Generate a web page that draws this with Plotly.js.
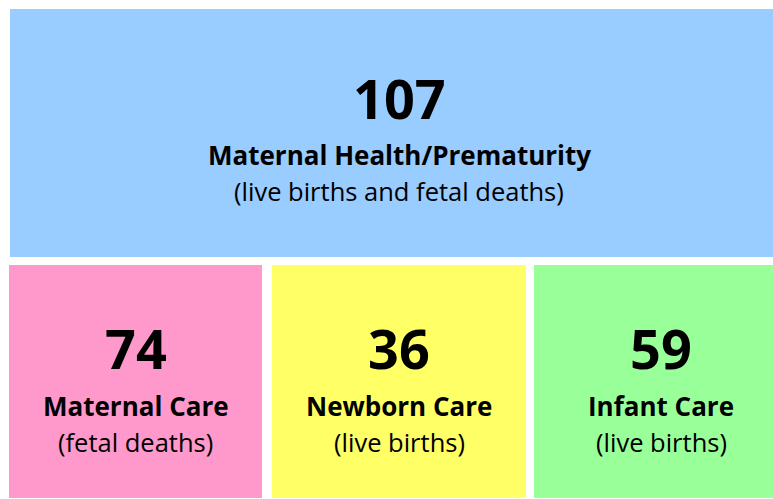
<!DOCTYPE html>
<html><head><meta charset="utf-8">
<script src="https://cdn.plot.ly/plotly-3.0.1.min.js"></script>
<style>html,body{margin:0;padding:0;background:#fff}#c{width:773px;height:499px}</style>
</head><body><div id="c"></div>
<script>
const categories = ["Maternal Health/Prematurity", "Maternal Care", "Newborn Care", "Infant Care"];
const subtitles = ["(live births and fetal deaths)", "(fetal deaths)", "(live births)", "(live births)"];
const values = [107, 74, 36, 59];
const colors = ["#99ccff", "#ff99cc", "#ffff66", "#99ff99"];

// box layout in pixel space (x0,x1,y0,y1), y from top; right boxes run past the window edge
const boxes = [
  [10, 788, 9, 257],
  [9, 262, 265, 498],
  [272, 526, 265, 498],
  [534, 788, 265, 498]
];
const W = 773, H = 499;
const font = "'Open Sans', sans-serif";
const shapes = [], annotations = [];
boxes.forEach((b, i) => {
  shapes.push({type: 'rect', xref: 'x', yref: 'y', x0: b[0], x1: b[1], y0: b[2], y1: b[3],
    fillcolor: colors[i], line: {width: 0}, layer: 'below'});
  const cx = (b[0] + b[1]) / 2;
  const top = i === 0;
  const yNum = top ? 98 : 348, yLab = top ? 155 : 406, ySub = top ? 191 : 442;
  annotations.push({x: cx, y: yNum, xref: 'x', yref: 'y', text: '<b>' + values[i] + '</b>', showarrow: false,
    font: {family: font, size: 54, color: '#000'}});
  annotations.push({x: cx, y: yLab, xref: 'x', yref: 'y', text: '<b>' + categories[i] + '</b>', showarrow: false,
    font: {family: font, size: 26, color: '#000'}});
  annotations.push({x: cx, y: ySub, xref: 'x', yref: 'y', text: subtitles[i], showarrow: false,
    font: {family: font, size: 25.5, color: '#000'}});
});
Plotly.newPlot('c', [{type: 'scatter', x: [], y: [], hoverinfo: 'skip'}], {
  width: W, height: H, margin: {l: 0, r: 0, t: 0, b: 0},
  paper_bgcolor: '#fff', plot_bgcolor: '#fff', showlegend: false,
  xaxis: {range: [0, W], visible: false, fixedrange: true},
  yaxis: {range: [H, 0], visible: false, fixedrange: true},
  shapes, annotations
}, {staticPlot: true});
</script></body></html>
